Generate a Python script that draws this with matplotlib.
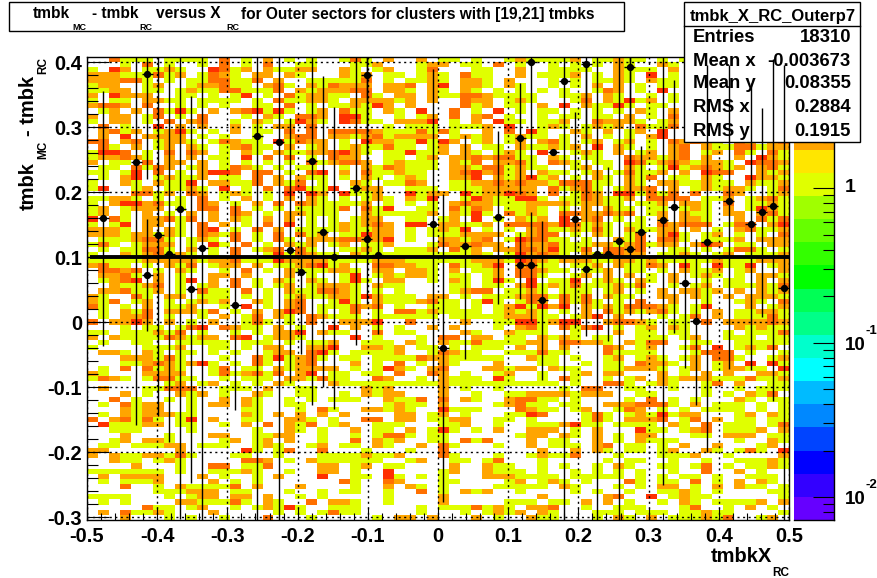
import numpy as np
import matplotlib
matplotlib.use("Agg")
import matplotlib.pyplot as plt
from matplotlib.colors import ListedColormap, BoundaryNorm
from matplotlib.patches import Rectangle
from matplotlib.lines import Line2D
from matplotlib.ticker import FixedLocator, NullFormatter

plt.rcParams['font.family'] = ['Liberation Sans', 'DejaVu Sans']
plt.rcParams['font.weight'] = 'bold'

# bin contents, top row first; '.' = empty. Columns 0-20, 21-42, 43-63.
counts_left = [
"..3111.1111.3.1.2.1.1","...1.3.1..1.3.1.3..11","1.42.1121..4312.21122","222111312.1321.22.21.",
"222331.1.1133113.2..1","122..12..122311.231.2","1122.11.1211331113.21","2.4222..11.1.14.1.312",
"1.11.2211.1111.1.3112","2332.3..1.1.1..11.3.1",".12.2.3141.2.234141.1","2.22.13.1.3...1.21.33",
"1.22.1.3.23..1.21.142",".3.1..4.2.2..2.1.22.3",".2312.1241.1.2.11.3.3",".2.4.2222.1.1..1..233",
"33.23.1221.13211.4132",".31.2.12.21.12311.2.1","1443.1.3.32.1.21.2112","122321.2.2.11.4.3.3.1",
"2.11.3.22.2.1.1.1.1.3",".11.3132.12.1321.1.11","11.14.3.1.2443.33.1.3",".1.24.12112.11.3.2.21",
"1..21.2114.22113.213.","14..12.1121.4.1.3.341","....3312.32.121.1.4.4","11221.1.1.3.1.2.1.2.2",
"1.2442311.32.1.2.3.32","12.1222.1.33.3.1.1.11","12.1.2.1.2.2.32.1.221","4.31.22313.2.21.2.2.1",
"1.14.22.1.3.2.1.3.4.1","2221.2.21.34.1.3.2.11","222122121.3213.1.3.31",".1112331.121.3.1.31.2",
"131.1222.1.41.3.1.212",".1.11331.2.1.3.123.31","1..2123121.1.3..14132","111112222212231114222",
"2311.1.213.122.2.1123",".3323.1.21..1.3.1.211",".2231.2.1..22.2...2.1",".1234.2.14.2.3.1.21.2",
"..21123.1.12.3.1.12.1",
".223112.1.311.3.1.211","21..31.22.111.1.1.121","213.12.1.1212..21.23.","31.1.2.112..1.4.1.23.",
".1.213.22213.1.2.243.",".1.223.1..1.2.13.21.3","3.2242.2.1.2..131.1.3","...1.11.134.3211.2.1.",
"11.111213.1..1.1.224.","2.2111132122.34.1221.",".1..11..11111.111.1.1","1....1112..11.1.22..2",
".221.21.11.1.1..122.3","...222131...1..314123","...112321241.1.31.123",".1.3.3121..13.11.2122",
"21...2222..1312313.24","1321.13311..1.111.221",".......12.12.1.1.21..",".2...11333..111.2..11",
"...2.1..212.1..21..11","..3.1..1.1..2.21..1.1",".1.3122..1.22.21..11.","...2122..1....11...1.",
".1.2122211....21.2.2.","3.23131.14.2..11..221",".411122.11..1.2.3.213","..111....1.....1..21.",
"...2...1...22..1122..","..12.221....12.12.2..",".11.11122.111..121..1","22......2.....41.13..",
"2.21122131...11..1...","..211.121.....332.1.2","....2...1..33.113....","1111111.1..11121..1..",
".2.2222...2.1..1.2...",".1.1112....2.1.1.....","...3..1.211113.2...2.","......111222.11...1..",
"1111...1.122.22.2..1.",".1.1....2211131.21..3",".....311.12..1.12141.",".2.31121...2.....1.1.",
"...2...1.1..1...3...1",
]
counts_mid = [
"..131.2..2.11.1..12111","...112...122.11.3.1..1","..21.12..13...11..2..1","..212.11.121.311..2.11",
"11113.1.1121.221.2...1","13222.223.24.221.21..1","22233.221.21.21.1.1.1.","211.31.22.2113321111.",
"21.222212.2..322.121..",".112142.2....312.11.2.","2.311.21.4..3.1.4.1.11","2.441..1.12.3.23.1..1.",
"1.4311.2224.1.2.411.11","......1.111.1112.4..12",".333321113131..2.3.41.",".2212312222.1212.1211.",
"2.1.422114142.12.12.23","2.1211311.12.2.11.2112","23421.114112.21.121.4.",".322..11.12.22323311.2",
"12332.12111.213.2231.3","..1.2132111.221331211.","4.2.311211..2342312.21","1.1.21.121..224.212412",
"1..21.1132..1122323221","14.122..111.11122222.3","2.4112..4122.4122432.3","1.1.121.214..14211441.",
"11112.1.1.1.2322111222","113.314..11.3132.1121.","11..2111112.2141.3121.",".1.122..11.12.4.1.212.",
".121232.44.22112.33332","1121122.1.1214.1.1.231","2.11422.1.1112222.1233","2233224.1..22123.14331",
".12.112...1322322.3223","..1121.1112.312.223324","11.211111111112 1.14232".replace(" ",""),"2111122211111122214321",
"412..332211.31124.2311","1221.22.221.2.112.3321","..14.121221.11.12.331.","1.141.22..1.21.141.4.1",
"2221.211....11.11.2412",
"3321.1.1....1233.1121.","122142111.22.1.1112331",".141.21112311.141.132.","111323.1..111.1.124142",
"1.13.1.33121111.12121.","2111.111111.1111122211","..2224..3....2..114412",".4.2.1.1..2.2...1.231.",
"211..3.11....21..2111.","...4.1...1.33.22.11.21","12..111.21.2113111122.","24..2212.11.1.111.2.2.",
"41.11112..13211..11131","1.11.111132211111..211","...2.1.3.1.21...2...11","22.1.1421.23...22122.2",
".11.11.3..32.1..12..1.","311..32..1.2111.41..1.",".211111111121111111111","....212....2.1..1.....",
"..1.2122...2..1..11222",".111..2113.3.21..23311","......1211.2....12311.","31..22121..4111...3211",
"2.2....22.12.1...1143.",".1..33.22.1122..11.1..",".12..111...112..1..111","1..2.11.2.141.1.2..222",
"1..1.1331.11......122.","1..3.212..11.313...2.1","2.11.21..2.31...1..2.1","3...1...1..3........2.",
"11112112...31...1..121","111111..12..11.13...1.","22.12.11....2..211..1.","22.1..4....12..2111.1.",
"4..11.41.1.1...2221111","..31..32...11....12.12","...1..2.21.1....11111.","1.11..1..3.1.212..1...",
"1.....1....2........2.",".221..1....2.....111.1",".111.....1.1113121.223","1311.....1...1.1212.21",
".....1.22.2...2.1..211",
]
counts_right = [
"12.11211.1.1.........",".1.1.21..21..........","111..2111.2..........","12.1.21.4.1..........",
".1.1121.211..........",".1.2.2.1.11..........","1..132.1.4...........","112.21..1.1..........",
".13.21412.1..........","4.21141.11...........",".1.1.1.21.2..........","11.11.2.1.3..........",
"2..32221.12..........","1.1212.3113..........",".21.2.12.4...........","1.2.1.1.24...........",
"1.12.12.1.32321.32.23","12.4.21.1.23.21133122",".121.2.12.23.12.31.31","1.11..322123.2..2.421",
"21.11.4312321221.4332",".12.1.21.14123212.231","1.12.13112.2.433..212",".1.21.213.11.21..4221",
"33311.21.2211211.2112","1231.1223.2.121221.13",".132.441313.3..32..12","1132112.3333.112.1231",
"212211.112.221.3.1121","1.2.211.11.121.2.1421","3322323.12.211.22.231","4.23.1.1.2.221..2.313",
"43121.11.32333.133.24","12131.21122.2.1.23112",".1.21.13.241.12.1.1.3","1.1..213.331.1112.222",
"11122123122.243.11.22","113.3323..11.1.1331.1","1.213322.1121.12.1112","222112212111112111222",
".112.21132.41.4114.12","1.112.11.1.2112.12..2",".12.2.2.1.2.121.1.221","14.121.21.2..1.11.2.2",
"13111213..1.12.111213",
"111.12.1.2.2212.2.212","313.211..22.21.2.2221","3131.1.3..2..1..121.3","4.212133321.14...2.12",
"1.2.3121231.1.2.11221",".124.2...1.13.2.11131","44..23321.11.3.222232","3134.1.12.21....21211",
".1...2.11.11...1.1113","21.11..111.12..111.11","33221.2133..11..11111","2...32.12..13.4.1213.",
"1...31111...1333.1..1",".1..12.121.12.331..12","..1.11.3221.2.12.4.41","11..112221.12.12211.4",
".12.22...2.1.2.2..221","31..1.12.212221113112",".1..331.121..13.2..11","1.33..11..1..1..1.111",
"21222..11....1.1.213.",".1....1.3.1.1...21.11","11..2223331.2.111.1.1",".12..132.1.1.1111.1.1",
"..131.1214122...12.21","..131.2223.13.2.11.11","2411.1111.21.3.111.13",".1.2...411.123.1112.2",
"21.2.1.22...11.222.11","1..2.1.2111.....1..21","11.23.11.1.2..2...12.",".2.21.11.12..21.131.4",
"13...1...1112..1....2","....1.11..1..1..11121","1..1.21..11.13.1.1121",".1.1.1.1..1..3..2.1..",
".11111.1.1.11.1..111.","1.1...31.11.3.1.2.21.","21...1.1.22.1.2.211.1",".1.1..1..1121.1....11",
"....23..4.1211......1","1.2.2.1..1.21.11112.2","..1..111...13..1.2.1.","...111.111.11211....1",
"...1.21.2.111213..12.",
]

# profile points: bin column, mean, upper and lower end of the error bar
prof_col = [1,4,5,5,6,7,8,9,10,13,15,17,18,19,20,21,22,24,25,25,26,31,32,34,37,39,39,40,40,41,42,
            43,44,45,45,46,47,48,49,49,50,52,53,54,55,56,58,60,61,62,63]
prof_y = [.1595,.2462,.381,.0718,.1334,.105,.1734,.0503,.1134,.0262,.2857,.2765,.1103,.0765,.2472,.138,.1,.2057,.38,.1272,.103,.1503,-.04,.1165,.161,.2826,.0872,.3995,.0872,.0334,.261,
          .3703,.158,.3965,.0815,.1042,.105,.1241,.3923,.1118,.138,.1565,.1774,.06,.0011,.1226,.1856,.1503,.1692,.178,.0523]
prof_hi = [.3554,.45,.45,.1585,.45,.397,.45,.347,.45,.186,.45,.45,.3138,.201,.45,.378,.3308,.45,.45,.45,.223,.39,.1965,.2872,.2938,.3677,.1385,.45,.1692,.1554,.261,
           .45,.3231,.45,.4,.45,.2385,.45,.45,.45,.2703,.45,.3718,.1872,.1282,.3954,.3954,.3677,.3292,.405,.3954]
prof_lo = [-.0365,-.158,.2195,-.0134,-.144,-.185,-.303,-.248,-.35,-.135,-.35,-.35,-.0938,-.0492,-.127,-.1005,-.134,-.0354,.1,.0277,-.0185,-.09,-.277,-.057,.0277,.1974,.0354,.2215,.002,-.0888,.261,
           -.35,-.0092,.2,-.021,-.35,-.0287,-.35,.2,.0108,.0035,-.2508,-.017,-.0703,-.127,-.2005,-.0723,-.0738,.0077,-.121,-.35]

stats_names = ["Entries", "Mean x", "Mean y", "RMS x", "RMS y"]
stats_values = ["18310", "-0.003673", "0.08355", "0.2884", "0.1915"]
x_ticks = [-0.5, -0.4, -0.3, -0.2, -0.1, 0, 0.1, 0.2, 0.3, 0.4, 0.5]
y_ticks = [-0.3, -0.2, -0.1, 0, 0.1, 0.2, 0.3, 0.4]
palette = ["#6600FF", "#3300FF", "#0000FF", "#0044FF", "#0088FF", "#00BBFF", "#00FFFF", "#00FFCC",
           "#00FF88", "#00FF55", "#00FF00", "#33FF00", "#66FF00", "#A0FF00", "#E0FF00", "#FFE600",
           "#FFA500", "#FF7000", "#FF3000", "#FF0000"]

W, H = 878, 578
XMIN, XMAX, YMIN, YMAX = -0.5, 0.5, -0.3046, 0.4077
ZMIN, ZMAX = 0.0071, 7.05
NX, NY = 64, 90

def fix(s, n):
    return s.ljust(n, '.')[:n]

rows = [fix(a, 21) + fix(b, 22) + fix(c, 21) for a, b, c in zip(counts_left, counts_mid, counts_right)]
Z = np.array([[0 if ch == '.' else int(ch) for ch in r] for r in rows], dtype=float)[::-1]
Z = np.ma.masked_where(Z <= 0, Z)

fig = plt.figure(figsize=(W / 100, H / 100), dpi=100, facecolor='white')

def box(l, t, r, b):
    return [l / W, 1 - b / H, (r - l) / W, (b - t) / H]

ax = fig.add_axes(box(87, 57, 789, 520), zorder=1)
xe = np.linspace(XMIN, XMAX, NX + 1)
ye = np.linspace(YMIN, YMAX, NY + 1)
edges = np.geomspace(ZMIN, ZMAX, 21)
cmap = ListedColormap(palette)
norm = BoundaryNorm(edges, 20)
ax.pcolormesh(xe, ye, Z, cmap=cmap, norm=norm, linewidth=0, rasterized=True)
ax.set_xlim(XMIN, XMAX)
ax.set_ylim(YMIN, YMAX)
ax.set_xticks(x_ticks)
ax.set_yticks(y_ticks)
ax.set_xticklabels(['-0.5', '-0.4', '-0.3', '-0.2', '-0.1', '0', '0.1', '0.2', '0.3', '0.4', '0.5'], fontsize=14.5, fontweight='bold')
ax.set_yticklabels(['-0.3', '-0.2', '-0.1', '0', '0.1', '0.2', '0.3', '0.4'], fontsize=14.5, fontweight='bold')
ax.xaxis.set_minor_locator(FixedLocator(np.arange(-0.5, 0.501, 0.02)))
ax.yaxis.set_minor_locator(FixedLocator(np.arange(-0.3, 0.401, 0.02)))
ax.tick_params(axis='x', which='major', direction='in', length=9.5, width=0.8, pad=5, zorder=6)
ax.tick_params(axis='x', which='minor', direction='in', length=4.8, width=0.8)
ax.tick_params(axis='y', which='major', direction='in', length=16, width=0.8, pad=3.5)
ax.tick_params(axis='y', which='minor', direction='in', length=8, width=0.8)
ax.set_axisbelow(False)
ax.grid(True, which='major', color='black', linewidth=1.0, linestyle=(0, (1.5, 2.5)))
for s in ax.spines.values():
    s.set_linewidth(1.0)
ax.plot([-0.4955, 0.4995], [0.1, 0.1], color='black', linewidth=2.8, solid_capstyle='butt', zorder=4)

# palette axis
cax = fig.add_axes(box(794, 57, 834, 520), zorder=1)
cax.pcolormesh([0, 1], edges, np.array(edges[:-1]).reshape(-1, 1) * 1.02, cmap=cmap, norm=norm, linewidth=0)
cax.set_yscale('log')
cax.set_ylim(ZMIN, ZMAX)
cax.set_xlim(0, 1)
cax.xaxis.set_visible(False)
for k, s in cax.spines.items():
    s.set_visible(k in ('right', 'bottom'))
    s.set_linewidth(1.0)
cax.yaxis.tick_right()
cax.tick_params(axis='y', which='major', direction='in', length=15, width=0.8, labelright=False)
cax.tick_params(axis='y', which='minor', direction='in', length=8, width=0.8, labelright=False)
cax.yaxis.set_major_locator(FixedLocator([0.01, 0.1, 1]))
cax.yaxis.set_minor_locator(FixedLocator([m * 10.0 ** e for e in (-3, -2, -1, 0) for m in range(2, 10)]))
cax.yaxis.set_minor_formatter(NullFormatter())

def ftext(px, py, s, **kw):
    kw.setdefault('fontweight', 'bold')
    return fig.text(px / W, 1 - py / H, s, **kw)

ftext(845, 188, "1", fontsize=14, ha='left', va='center')
ftext(845, 345, "10", fontsize=13.5, ha='left', va='center')
ftext(866, 331, "-1", fontsize=9.5, ha='left', va='center')
ftext(845, 499, "10", fontsize=13.5, ha='left', va='center')
ftext(866, 485, "-2", fontsize=9.5, ha='left', va='center')

# axis titles
ftext(711, 557, "tmbkX", fontsize=14.5, ha='left', va='center')
ftext(772, 573, "RC", fontsize=8.5, ha='left', va='center')
ftext(28, 210, "tmbk", fontsize=14.5, rotation=90, ha='center', va='bottom')
ftext(43, 150, "MC", fontsize=8.5, rotation=90, ha='center', va='center')
ftext(28, 136, "- tmbk", fontsize=14.5, rotation=90, ha='center', va='bottom')
ftext(43, 66, "RC", fontsize=8.5, rotation=90, ha='center', va='center')

# title box
fig.add_artist(Rectangle((9 / W, 1 - 31 / H), 615 / W, 29 / H, transform=fig.transFigure,
                         facecolor='white', edgecolor='black', linewidth=1.0, zorder=5))
ttl = [(33, 14, "tmbk", 11.2), (72, 27, "MC", 6.5), (92, 14, "- tmbk", 11.2), (139, 27, "RC", 6.5),
       (156, 14, "versus X", 11.2), (226, 27, "RC", 6.5),
       (241, 14, "for Outer sectors for clusters with [19,21] tmbks", 11.2)]
for tx, ty, s, fs in ttl:
    ftext(tx, ty, s, fontsize=fs, ha='left', va='center', zorder=6)

# statistics box
fig.add_artist(Rectangle((684 / W, 1 - 142 / H), 176 / W, 140 / H, transform=fig.transFigure,
                         facecolor='white', edgecolor='black', linewidth=1.0, zorder=5))
fig.add_artist(Line2D([684 / W, 860 / W], [1 - 26 / H, 1 - 26 / H], transform=fig.transFigure,
                      color='black', linewidth=1.0, zorder=6))
ftext(773, 16, "tmbk_X_RC_Outerp7", fontsize=12.0, ha='center', va='center', zorder=6)
for py, n, v in zip([38, 61, 84, 107, 131], stats_names, stats_values):
    ftext(693, py, n, fontsize=13.3, ha='left', va='center', zorder=6)
    ftext(851, py, v, fontsize=13.3, ha='right', va='center', zorder=6)

# profile on top of everything
ov = fig.add_axes(box(87, 57, 789, 520), zorder=10, sharex=ax, sharey=ax)
ov.patch.set_alpha(0)
ov.set_axis_off()
col = np.array(prof_col)
px_ = XMIN + (col + 0.5) * (XMAX - XMIN) / NX
py_ = np.array(prof_y)
ov.vlines(px_, np.array(prof_lo), np.array(prof_hi), color='black', linewidth=1.0)
ov.hlines(py_, px_ - 0.5 / NX, px_ + 0.5 / NX, color='black', linewidth=1.0)
ov.plot(px_, py_, linestyle='none', marker='o', markersize=4.2, color='black')

fig.savefig("out.png", dpi=100, facecolor='white')
